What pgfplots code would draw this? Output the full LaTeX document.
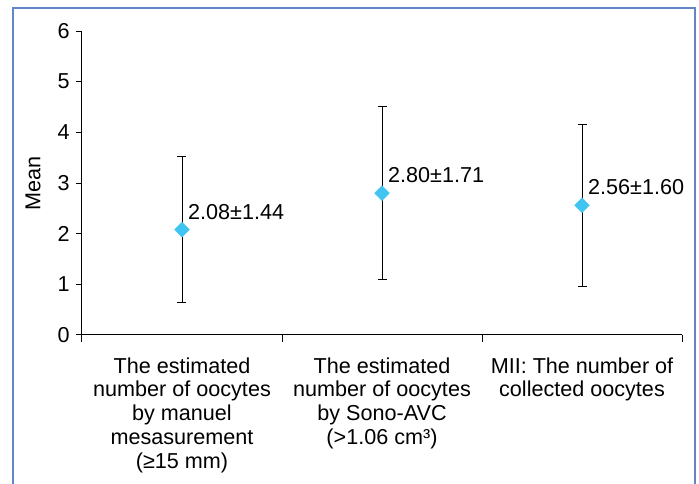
\documentclass[border=0pt]{standalone}
\usepackage{fontspec}
\setmainfont{Liberation Sans}
\usepackage{pgfplots}
\usepackage{pgfplotstable}
\pgfplotsset{compat=1.18}
\definecolor{framec}{RGB}{98,135,200}
\definecolor{markc}{RGB}{64,196,240}
\newcommand{\chfont}{\fontsize{21.6}{23.8}\selectfont}
\pgfplotstableread[col sep=comma]{
x,y,e,lab
0,2.08,1.44,2.08±1.44
1,2.80,1.71,2.80±1.71
2,2.56,1.60,2.56±1.60
}\datatable
\begin{document}
\chfont
\begin{tikzpicture}[font=\chfont]
\useasboundingbox (-82pt,-149pt) rectangle (617pt,335pt);
\draw[framec, line width=1.5pt] (-69pt,-170pt) -- (-69pt,327pt) -- (613pt,327pt) -- (613pt,-170pt);
\begin{axis}[
  at={(0pt,0pt)}, anchor=south west,
  scale only axis, width=600pt, height=304pt,
  xmin=-0.5, xmax=2.5, ymin=0, ymax=6,
  axis lines*=left,
  axis line style={line width=1pt, black},
  tick align=outside,
  xtick pos=left, ytick pos=left,
  major tick length=6pt, minor tick length=7pt,
  tick style={line width=1pt, black},
  ytick={0,1,2,3,4,5,6},
  xtick={0,1,2},
  major x tick style={draw=none},
  minor xtick={-0.5,0.5,1.5,2.5},
  xticklabels={{The estimated\\number of oocytes\\by manuel\\mesasurement\\(≥15 mm)},
               {The estimated\\number of oocytes\\by Sono-AVC\\(>1.06 cm³)},
               {MII: The number of\\collected oocytes}},
  xticklabel style={align=center, anchor=north, yshift=-9pt},
  /pgf/number format/assume math mode=true,
  tick label style={font=\chfont},
  yticklabel style={xshift=1pt},
  ylabel={Mean},
  every axis y label/.style={at={(axis description cs:0,0.5)}, xshift=-49pt, rotate=90, anchor=center, font=\chfont},
  clip=false,
]
\addplot[
  only marks, mark=square*, mark size=5.2pt,
  mark options={rotate=45, fill=markc, draw=markc},
  error bars/.cd, y dir=both, y explicit,
  error bar style={line width=0.9pt, black},
  error mark options={rotate=90, mark size=4.5pt, line width=0.9pt, black},
] table[x=x, y=y, y error=e] {\datatable};
\addplot[
  only marks, mark=none,
  point meta=explicit symbolic,
  nodes near coords,
  nodes near coords style={anchor=west, xshift=4pt, yshift=18pt, font=\chfont, inner sep=2pt},
] table[x=x, y=y, meta=lab] {\datatable};
\end{axis}
\end{tikzpicture}
\end{document}
